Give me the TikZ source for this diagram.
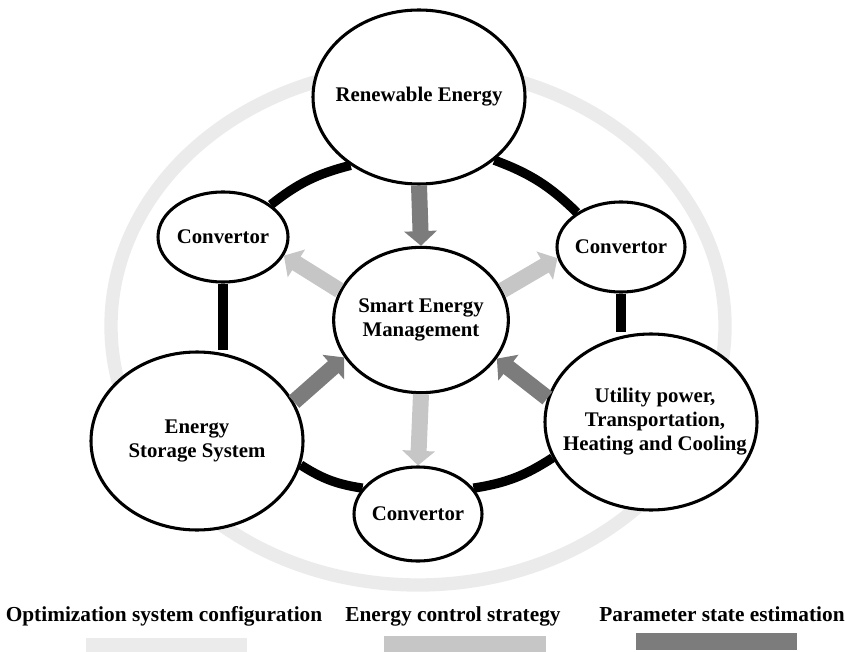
\documentclass[tikz,border=0pt]{standalone}
\usepackage{fontspec}
\setmainfont{Liberation Serif}
\usetikzlibrary{shapes.geometric,arrows.meta}
\definecolor{ringgray}{HTML}{EBEBEB}
\definecolor{ctrlgray}{HTML}{C6C6C6}
\definecolor{paramgray}{HTML}{7C7C7C}
\tikzset{
  blob/.style={ellipse,draw,line width=2.3pt,fill=white,inner sep=0pt},
  blobtext/.style={align=center,font=\bfseries\fontsize{15.6}{18}\selectfont},
  link/.style={line width=7pt},
  ctrlarrow/.style={draw=ctrlgray,line width=12pt,-{Triangle[width=24pt,length=11pt]}},
  paramarrow/.style={ctrlarrow,draw=paramgray},
  legend/.style={font=\bfseries\fontsize{16}{18}\selectfont,anchor=base},
}
\begin{document}
\begin{tikzpicture}[x=0.75pt,y=-0.75pt]
  \useasboundingbox (0,0) rectangle (845,652);

  \draw[ringgray,line width=10pt] (418,326) ellipse [x radius=230.25pt, y radius=194.25pt];

  \node[blob,minimum width=159pt,minimum height=130.5pt,label={[blobtext]center:Renewable Energy}] (ren) at (419,97) {};
  \node[blob,minimum width=131pt,minimum height=109pt,label={[blobtext]center:{Smart Energy\\Management}}] (sem) at (421,320) {};
  \node[blob,minimum width=97.5pt,minimum height=67.5pt,label={[blobtext]center:Convertor}] (lconv) at (223,237) {};
  \node[blob,minimum width=96pt,minimum height=67.5pt,label={[blobtext]center:Convertor}] (rconv) at (621,247) {};
  \node[blob,minimum width=96pt,minimum height=70.5pt,label={[blobtext]center:Convertor}] (bconv) at (418,514) {};
  \node[blob,minimum width=159pt,minimum height=133.5pt,label={[blobtext]center:{Energy\\Storage System}}] (ess) at (197,441) {};
  \node[blob,minimum width=159pt,minimum height=132pt,label={[blobtext,xshift=3pt]center:{Utility power,\\Transportation,\\Heating and Cooling}}] (util) at (651,422) {};

  \draw[link] (ren.225) to[bend right=12] (lconv.34);
  \draw[link] (ren.-40) to[bend left=12] (rconv.142);
  \draw[link] (lconv.south) -- (lconv.south |- ess.north);
  \draw[link] (rconv.south) -- (rconv.south |- util.north);
  \draw[link] (ess.-13) to[bend right=12] (bconv.155);
  \draw[link] (bconv.25) to[bend right=12] (util.200);

  \draw[paramarrow] (ren.south) -- (sem.north);
  \draw[paramarrow] (ess.22) -- (sem.206);
  \draw[paramarrow] (util.167) -- (sem.-27);
  \draw[ctrlarrow] (sem.160) -- (lconv.-17);
  \draw[ctrlarrow] (sem.20) -- (rconv.190);
  \draw[ctrlarrow] (sem.south) -- (bconv.north);

  \node[legend] (optlbl) at (164,621) {Optimization system configuration};
  \node[legend] (ctrllbl) at (453,621) {Energy control strategy};
  \node[legend] (paramlbl) at (722,621) {Parameter state estimation};
  \fill[ringgray] (86,638) rectangle (247,652);
  \fill[ctrlgray] (384,636) rectangle (546,652);
  \fill[paramgray] (636,633) rectangle (797,650);
\end{tikzpicture}
\end{document}
